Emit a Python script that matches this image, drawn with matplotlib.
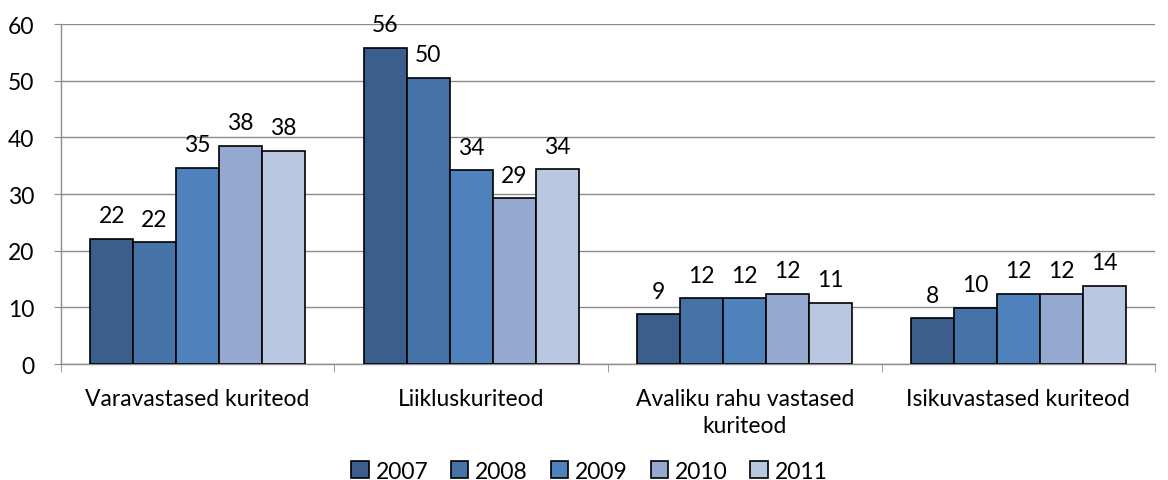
import matplotlib.pyplot as plt
import matplotlib
import numpy as np

matplotlib.rcParams['font.family'] = ['Lato', 'DejaVu Sans']
matplotlib.rcParams['font.size'] = 16.5

categories = ['Varavastased kuriteod', 'Liikluskuriteod',
              'Avaliku rahu vastased\nkuriteod', 'Isikuvastased kuriteod']
years = ['2007', '2008', '2009', '2010', '2011']
v2007 = [22.1, 55.8, 8.8, 8.1]
v2008 = [21.5, 50.5, 11.6, 9.9]
v2009 = [34.6, 34.2, 11.6, 12.4]
v2010 = [38.5, 29.3, 12.4, 12.4]
v2011 = [37.6, 34.4, 10.8, 13.8]
series = [v2007, v2008, v2009, v2010, v2011]

colors = ['#3b5e8c', '#4572a7', '#4f81bd', '#95a9d0', '#b9c7e0']

fig = plt.figure(figsize=(11.68, 4.81), dpi=100)
ax = fig.add_axes([0.052, 0.241, 0.937, 0.707])

x = np.arange(len(categories))
w = 0.157
for i, vals in enumerate(series):
    pos = x + (i - 2) * w
    bars = ax.bar(pos, vals, width=w, color=colors[i], edgecolor='black',
                  linewidth=1.2, label=years[i], zorder=3)
    for b, v in zip(bars, vals):
        ax.annotate(str(int(round(v))), (b.get_x() + b.get_width() / 2, v),
                    xytext=(0, 9), textcoords='offset points',
                    ha='center', va='bottom')

ax.set_ylim(0, 60)
ax.set_yticks(range(0, 61, 10))
ax.set_xlim(-0.5, len(categories) - 0.5)
ax.yaxis.grid(True, color='#8c8c8c', linewidth=1, zorder=0)
ax.set_axisbelow(True)

for s in ['top', 'right']:
    ax.spines[s].set_visible(False)
for s in ['left', 'bottom']:
    ax.spines[s].set_color('#8c8c8c')
    ax.spines[s].set_linewidth(1)

ax.set_xticks(x)
ax.set_xticklabels(categories, linespacing=1.4)
ax.tick_params(axis='x', length=0, pad=17)
ax.set_xticks(np.arange(-0.5, len(categories)), minor=True)
ax.tick_params(axis='x', which='minor', length=6, color='#8c8c8c')
ax.tick_params(axis='y', length=5, color='#8c8c8c', pad=14)

ax.legend(loc='center', bbox_to_anchor=(0.483, -0.315), ncol=5,
          frameon=False, handlelength=0.75, handleheight=0.75,
          handletextpad=0.3, columnspacing=1.0)

plt.savefig('out.png', dpi=100)
